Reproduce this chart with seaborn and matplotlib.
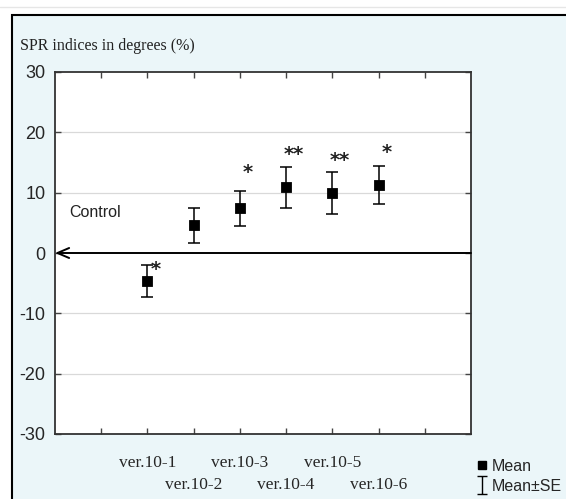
import matplotlib
matplotlib.use("Agg")
import matplotlib.pyplot as plt
from matplotlib.patches import Rectangle
from matplotlib.lines import Line2D
from matplotlib.path import Path
import seaborn as sns
import pandas as pd
import numpy as np

categories = ["ver.10-1", "ver.10-2", "ver.10-3", "ver.10-4", "ver.10-5", "ver.10-6"]
means = [-4.7, 4.6, 7.4, 10.9, 10.0, 11.3]
se = [2.65, 2.9, 2.9, 3.4, 3.5, 3.15]
stars = ["*", "", "*", "**", "**", "*"]
star_y = [-2.8, None, 13.4, 16.4, 15.3, 16.7]
yticks = [-30, -20, -10, 0, 10, 20, 30]

sns.set_theme(style="white")
plt.rcParams["font.family"] = ["Liberation Sans Narrow", "Liberation Sans", "DejaVu Sans"]

df = pd.DataFrame({"cat": categories, "mean": means, "se": se})
df["pos"] = np.arange(len(categories)) + 2

fig = plt.figure(figsize=(5.66, 4.99), dpi=100)
fig.patch.set_facecolor("white")
# outer frame
fig.patches.append(Rectangle((12/566, -0.01), 1.0, (499-15)/499 + 0.01, transform=fig.transFigure,
                             facecolor="#ebf6f9", edgecolor="black", lw=1.5, zorder=-10))
fig.lines.append(Line2D([0, 1], [1 - 7/499, 1 - 7/499], transform=fig.transFigure,
                        color="#e6e6e6", lw=1, zorder=-10))

ax = fig.add_axes([55/566, (499-434)/499, (471-55)/566, (434-72)/499])
ax.set_zorder(1)
ax.set_facecolor("white")
ax.set_xlim(0, 9)
ax.set_ylim(-30, 30)

for v in yticks:
    if v not in (0, -30, 30):
        ax.axhline(v, color="#d9d9d9", lw=0.9, zorder=0)

ax.errorbar(df["pos"], df["mean"], yerr=df["se"], fmt="none", ecolor="black",
            elinewidth=1.1, capsize=4, capthick=1.1, zorder=3)
sns.scatterplot(data=df, x="pos", y="mean", marker="s", s=55, color="black",
                edgecolor="black", ax=ax, zorder=4, legend=False)

for p, s_, sy in zip(df["pos"], stars, star_y):
    if s_:
        ax.text(p + 0.17, sy, s_, ha="center", va="center", fontsize=14,
                fontweight="bold", family="DejaVu Sans", color="#222222")

# control arrow
ax.annotate("", xy=(0, 0), xytext=(9, 0),
            arrowprops=dict(arrowstyle="->,head_length=0.7,head_width=0.3",
                            color="black", lw=1.4, shrinkA=0, shrinkB=0))
ax.text(0.3, 6.7, "Control", fontsize=11.5, ha="left", va="center", color="#222222")

ax.set_yticks(yticks)
ax.set_yticklabels([str(v) for v in yticks], fontsize=13)
ax.set_xticks(list(range(1, 9)))
xlabels = [""] + categories + [""]
ax.set_xticklabels(xlabels, fontsize=12.5, family=["Liberation Serif", "DejaVu Serif"])
ax.tick_params(axis="x", direction="in", length=4, width=1, top=True, bottom=True,
               color="#444444")
ax.tick_params(axis="y", direction="in", length=4, width=1, left=True, right=True,
               color="#444444", pad=7)
for i, t in enumerate(ax.xaxis.get_major_ticks()):
    if i in (2, 4, 6):
        t.set_pad(31)
    else:
        t.set_pad(15)
ax.set_xlabel("")
ax.set_ylabel("")
for sp in ax.spines.values():
    sp.set_color("#333333")
    sp.set_linewidth(1.3)

fig.text(20/566, 1 - 46/499, "SPR indices in degrees (%)", fontsize=11.5,
         family=["Liberation Serif", "DejaVu Serif"], ha="left", va="center", color="#222222")

# legend
ibeam = Path([(-0.5, 1), (0.5, 1), (0, 1), (0, -1), (-0.5, -1), (0.5, -1)],
             [Path.MOVETO, Path.LINETO, Path.MOVETO, Path.LINETO, Path.MOVETO, Path.LINETO])
handles = [Line2D([], [], marker="s", ls="none", color="black", markersize=6),
           Line2D([], [], marker=ibeam, ls="none", color="black", markersize=13,
                  markeredgewidth=1.0, fillstyle="none")]
fig.legend(handles, ["Mean", "Mean±SE"], loc="upper left",
           bbox_to_anchor=(468/566, 1 - 451/499), frameon=False, fontsize=11.5,
           handlelength=0.8, handletextpad=0.2, labelspacing=0.3, borderpad=0)

fig.savefig("out.png", dpi=100)
